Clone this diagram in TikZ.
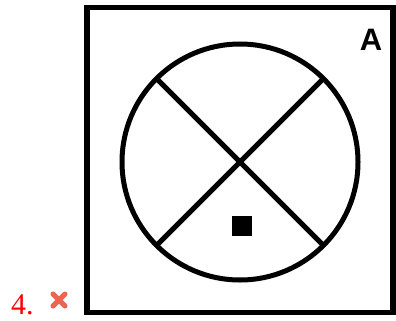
\documentclass[tikz,border=0pt]{standalone}
\usepackage{fontspec}
\setmainfont{Liberation Serif}
\newfontfamily\labelsans{Liberation Sans}
\definecolor{numred}{RGB}{255,0,0}
\definecolor{iconred}{RGB}{238,100,80}
\begin{document}
\begin{tikzpicture}[x=1pt,y=-1pt,
  framebox/.style={draw=black,line width=5.5pt,inner sep=0pt,outer sep=0pt,minimum width=306pt,minimum height=305pt},
  ring/.style={circle,draw=black,line width=5pt,inner sep=0pt,outer sep=0pt,minimum size=236pt},
  crossline/.style={draw=black,line width=5pt},
  marker/.style={fill=black,inner sep=0pt,minimum size=20pt},
  letter/.style={font=\labelsans\bfseries\fontsize{31}{31}\selectfont,inner sep=0pt},
  num/.style={font=\fontsize{30}{30}\selectfont,text=numred,inner sep=0pt},
  xicon/.style={draw=iconred,line width=5pt,line cap=round}]
\useasboundingbox (0,0) rectangle (396,321);
\node[framebox] (frame) at (240.2,160.2) {};
\node[ring] (c) at (240,162) {};
\draw[crossline] (c.135) -- (c.-45);
\draw[crossline] (c.45) -- (c.-135);
\node[marker] (sq) at (242,225.5) {};
\node[letter] (A) at (371,40) {A};
\node[num,anchor=base west] (n4) at (11,314) {4.};
\coordinate (x1) at (53,294);
\coordinate (x2) at (65,306);
\coordinate (x3) at (65,294);
\coordinate (x4) at (53,306);
\draw[xicon] (x1) -- (x2);
\draw[xicon] (x3) -- (x4);
\end{tikzpicture}
\end{document}
